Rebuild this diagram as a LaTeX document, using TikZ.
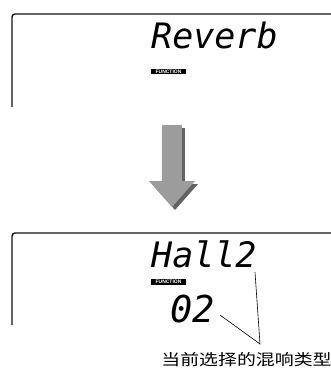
\documentclass[tikz,border=0pt]{standalone}
\usepackage{fontspec}
\usepackage{xcolor}
\usepackage{tikz}
\usetikzlibrary{positioning,calc}
\newfontfamily\lcdfont{DejaVu Sans Mono Oblique}
\newfontfamily\tagfont{Liberation Sans Bold}
\newfontfamily\cjk{Noto Sans CJK SC}
\definecolor{ArrowLight}{RGB}{156,156,156}
\definecolor{ArrowDark}{RGB}{98,98,98}
\definecolor{PanelLine}{RGB}{20,20,20}

\begin{document}
\begin{tikzpicture}[
    x=1pt,y=-1pt,
    panel/.style={draw=PanelLine, line width=1.4pt, rounded corners=3pt},
    lcd/.style={anchor=base west, inner sep=0pt, font=\lcdfont\fontsize{35}{35}\selectfont},
    numtext/.style={anchor=base west, inner sep=0pt, font=\lcdfont\fontsize{37}{37}\selectfont},
    tag/.style={fill=black, text=white, inner sep=0pt, minimum width=35pt, minimum height=5.8pt, font=\tagfont\fontsize{5}{5}\selectfont},
    pointer/.style={draw=black, line width=0.6pt}
  ]
    \useasboundingbox (0,0) rectangle (331,368);
    % top display
    \draw[panel] (12,107) -- (12,14) -- (331,14);
    \node[lcd] (reverb) at (151,48) {Reverb};
    \node[tag] (tagA) at (168.5,71.5) {FUNCTION};
    % arrow with shadow
    \fill[ArrowDark] (165,128) -- (185,128) -- (185,184) -- (198,184) -- (175,210) -- (152,184) -- (165,184) -- cycle;
    \fill[ArrowLight] (162,125) -- (182,125) -- (182,181) -- (195,181) -- (172,207) -- (149,181) -- (162,181) -- cycle;
    % bottom display
    \draw[panel] (12,325) -- (12,233) -- (331,233);
    \node[lcd] (hall) at (151,267) {Hall2};
    \node[tag] (tagB) at (168.5,282) {FUNCTION};
    \node[numtext] (num) at (170,322) {02};
    \coordinate (hallpt) at (255,272);
    \coordinate (numpt) at (220,315);
    \coordinate (meet) at (260,344);
    \draw[pointer] (hallpt) -- (meet) -- (numpt);
    \node[font=\cjk\fontsize{15.5}{15.5}\selectfont, inner sep=0pt] (cap) at (246.5,360) {\scalebox{1.22}[1]{当前选择的混响类型}};
  \end{tikzpicture}
\end{document}
